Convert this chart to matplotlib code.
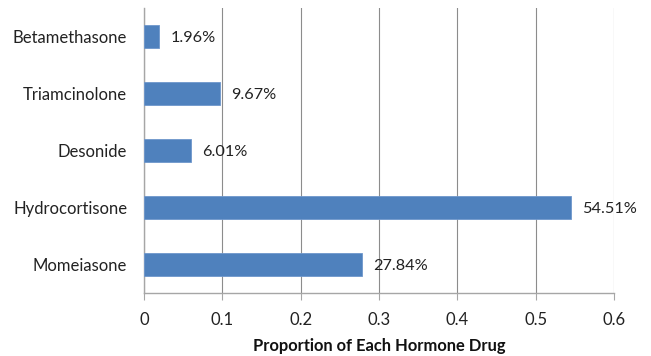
import matplotlib.pyplot as plt

plt.rcParams['font.family'] = ['Lato', 'DejaVu Sans']

# data, bottom to top as drawn
drugs = ['Momeiasone', 'Hydrocortisone', 'Desonide', 'Triamcinolone', 'Betamethasone']
shares = [0.2784, 0.5451, 0.0601, 0.0967, 0.0196]
labels = ['27.84%', '54.51%', '6.01%', '9.67%', '1.96%']
xticks = [0, 0.1, 0.2, 0.3, 0.4, 0.5, 0.6]

fig = plt.figure(figsize=(6.51, 3.56), dpi=100)
ax = fig.add_axes([144/651, 1 - 293/356, 470/651, 285/356])

ax.barh(range(len(drugs)), shares, height=0.39, color='#4F81BD',
        edgecolor='#6F97CC', linewidth=0.6, zorder=3)

for i, (v, t) in enumerate(zip(shares, labels)):
    ax.annotate(t, (v, i), xytext=(8, -1), textcoords='offset points',
                va='center', ha='left', fontsize=11.7, color='#222222', zorder=4)

ax.set_xlim(0, 0.6)
ax.set_ylim(-0.5, len(drugs) - 0.5)
ax.set_xticks(xticks)
ax.set_xticklabels(['0'] + [f'{x:.1f}' for x in xticks[1:]], fontsize=12, color='#222222')
ax.set_yticks(range(len(drugs)))
ax.set_yticklabels(drugs, fontsize=12, color='#222222')
ax.tick_params(axis='y', length=0, pad=12)
ax.tick_params(axis='x', length=5, color='#A6A6A6', pad=9)

ax.grid(axis='x', color='#8C8C8C', linewidth=0.8, zorder=0)
for s in ['top', 'right']:
    ax.spines[s].set_visible(False)
for s in ['left', 'bottom']:
    ax.spines[s].set_color('#A6A6A6')
    ax.spines[s].set_linewidth(1.0)

ax.set_xlabel('Proportion of Each Hormone Drug', fontsize=11.9,
              fontweight='bold', color='#111111', labelpad=7)

fig.savefig('out.png', dpi=100)
